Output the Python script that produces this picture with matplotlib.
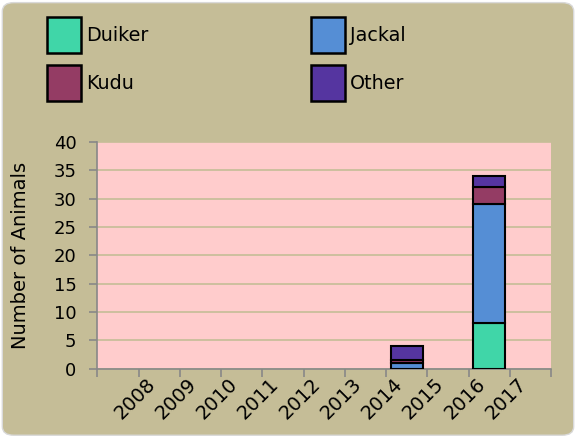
import matplotlib
matplotlib.use('Agg')
import matplotlib.pyplot as plt
import matplotlib.transforms as mtransforms
from matplotlib.patches import FancyBboxPatch, Patch

plt.rcParams['font.family'] = ['DejaVu Sans']

# categories (first slot has no label)
years = ['', '2008', '2009', '2010', '2011', '2012', '2013', '2014', '2015', '2016', '2017']
duiker = [0, 0, 0, 0, 0, 0, 0, 0, 0, 8, 0]
jackal = [0, 0, 0, 0, 0, 0, 0, 1, 0, 21, 0]
kudu   = [0, 0, 0, 0, 0, 0, 0, 0.5, 0, 3, 0]
other  = [0, 0, 0, 0, 0, 0, 0, 2.5, 0, 2, 0]

names = ['Duiker', 'Jackal', 'Kudu', 'Other']
colors = ['#40D6A8', '#558ED5', '#943C64', '#5535A0']

bg = '#C5BD97'
fig = plt.figure(figsize=(5.76, 4.37), dpi=100)
fig.patch.set_facecolor('white')
frame = FancyBboxPatch((0.004, 0.004), 0.992, 0.99, boxstyle='round,pad=0,rounding_size=0.02',
                       transform=fig.transFigure, facecolor=bg, edgecolor='#D9D9D9', lw=1,
                       zorder=-10)
fig.patches.append(frame)

ax = fig.add_axes([0.169, 0.156, 0.788, 0.519])
ax.set_facecolor('#FFCCCC')

bottom = [0] * len(years)
for vals, c in zip([duiker, jackal, kudu, other], colors):
    xs = [i for i, v in enumerate(vals) if v > 0]
    hs = [vals[i] for i in xs]
    bs = [bottom[i] for i in xs]
    ax.bar(xs, hs, width=0.78, bottom=bs, color=c, edgecolor='black', lw=1.5, zorder=3)
    bottom = [b + v for b, v in zip(bottom, vals)]

ax.set_xlim(-0.5, len(years) - 0.5)
ax.set_ylim(0, 40)
ax.set_yticks(range(0, 41, 5))
ax.yaxis.grid(True, color='#C5BD97', lw=1.2, zorder=0)
ax.set_axisbelow(True)

ax.set_xticks(list(range(len(years))))
ax.set_xticklabels(years, rotation=45, ha='right', va='center', rotation_mode='anchor', fontsize=14)
ax.set_xticks([i - 0.5 for i in range(len(years) + 1)], minor=True)
ax.tick_params(axis='x', which='major', length=0, pad=13)
ax.tick_params(axis='x', which='minor', length=6, color='#888888', width=1.2)
ax.tick_params(axis='y', length=6, color='#888888', width=1.2, labelsize=13, pad=9)

# nudge rotated year labels up-left so they end at the category centre
shift = mtransforms.ScaledTranslation(-7 / 100, 6 / 100, fig.dpi_scale_trans)
for lab in ax.get_xticklabels():
    lab.set_transform(lab.get_transform() + shift)

for s in ['top', 'right']:
    ax.spines[s].set_visible(False)
for s in ['left', 'bottom']:
    ax.spines[s].set_color('#888888')
    ax.spines[s].set_linewidth(1.2)

ax.set_ylabel('Number of Animals', fontsize=14)
ax.yaxis.set_label_coords(-67 / 454, 0.5)

handles = [Patch(facecolor=c, edgecolor='black', lw=1.8) for c in colors]
order = [0, 2, 1, 3]
fig.legend([handles[i] for i in order], [names[i] for i in order], ncol=2,
           loc='upper left', bbox_to_anchor=(0.082, 0.962), frameon=False,
           fontsize=13.8, handlelength=1.77, handleheight=2.55, handletextpad=0.26,
           columnspacing=8.5, labelspacing=0.62, borderpad=0, borderaxespad=0)

fig.savefig('out.png', dpi=100, facecolor=fig.get_facecolor())
